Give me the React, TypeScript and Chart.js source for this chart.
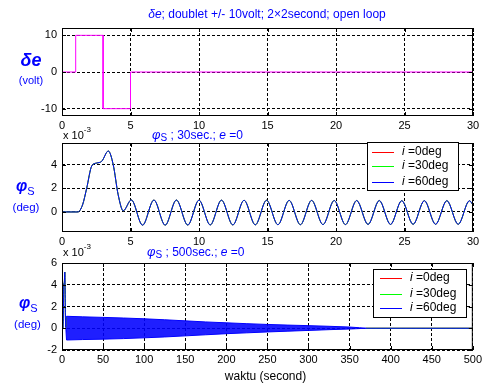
import React, { useEffect, useRef } from "react";
import { Chart, registerables } from "chart.js";
Chart.register(...registerables);

const FONT = "'Liberation Sans', Arial, Helvetica, sans-serif";

// ---- Plot 1: elevator doublet (volt) ----
const t1 = [0, 1, 1, 3, 3, 5, 5, 30];
const de1 = [0, 0, 10, 10, -10, -10, 0, 0];

// ---- Plot 2: phi_s over 30 s (x 10^-3 deg) ----
const t2 = [
  0, 1.15, 1.5, 1.8, 2.17, 2.53, 2.9, 3.38, 3.74, 4.1, 4.47,
  5.06, 5.88, 6.71, 7.53, 8.35, 9.18, 10.0, 10.82, 11.64, 12.47, 13.29,
  14.11, 14.93, 15.76, 16.58, 17.4, 18.22, 19.05, 19.87, 20.69, 21.51,
  22.34, 23.16, 23.98, 24.8, 25.63, 26.45, 27.27, 28.09, 28.92, 29.74, 30,
];
const phi30 = [
  0, 0, 0.6, 2.0, 3.9, 4.15, 4.3, 5.17, 4.0, 1.46, 0.1,
  1.02, -1.12, 1.01, -1.12, 1.01, -1.11, 1.0, -1.1, 1.0, -1.1, 0.99,
  -1.09, 0.99, -1.08, 0.98, -1.08, 0.98, -1.07, 0.97, -1.07, 0.97,
  -1.06, 0.97, -1.06, 0.96, -1.05, 0.96, -1.05, 0.96, -1.05, 0.95, 0.6,
];

// ---- Plot 3: phi_s over 500 s (x 10^-3 deg) ----
const t3 = [0, 1.15, 1.5, 1.8, 2.17, 2.53, 2.9, 3.38, 3.74, 4.1, 4.47, 5.06];
const phi500 = [0, 0, 0.6, 2.0, 3.9, 4.15, 4.3, 5.17, 4.0, 1.46, 0.1, 1.02];
const tTail = [370, 500];
const phiTail = [0, 0];
const tEnv = [4.6, 5.5, 25, 50, 75, 100, 125, 150, 175, 200, 225, 250, 275, 300, 325, 350, 362, 370];
const envUpper = [0.1, 1.1, 1.05, 1.0, 0.94, 0.87, 0.78, 0.68, 0.58, 0.5, 0.42, 0.35, 0.29, 0.24, 0.18, 0.11, 0.05, 0];
const envLower = [0.1, -1.08, -1.04, -1.0, -0.95, -0.88, -0.8, -0.7, -0.6, -0.5, -0.42, -0.34, -0.27, -0.2, -0.13, -0.07, -0.03, 0];

// ---- ticks / legend ----
const xTicks30 = [0, 5, 10, 15, 20, 25, 30];
const xTicks500 = [0, 50, 100, 150, 200, 250, 300, 350, 400, 450, 500];
const yTicks1 = [-10, 0, 10];
const yTicks2 = [0, 2, 4];
const yTicks3 = [-2, 0, 2, 4, 6];
const legendLabels = ["0deg", "30deg", "60deg"];
const seriesColors = ["rgb(255,0,0)", "rgb(0,255,0)", "rgb(0,0,255)"];

type Run = { text: string; font: string; color?: string; dy?: number };
type RichItem = { x: number; y: number; align: "left" | "center"; runs: Run[] };
type LegendBox = { x: number; y: number; w: number; h: number; rows: number[]; l0: number; l1: number; tx: number };

const BLUE = "#0000ff";
const f = (spec: string) => `${spec} ${FONT}`;

function drawRich(ctx: CanvasRenderingContext2D, item: RichItem) {
  ctx.save();
  ctx.textBaseline = "middle";
  ctx.textAlign = "left";
  let total = 0;
  for (const r of item.runs) {
    ctx.font = r.font;
    total += ctx.measureText(r.text).width;
  }
  let x = item.align === "center" ? item.x - total / 2 : item.x;
  for (const r of item.runs) {
    ctx.font = r.font;
    ctx.fillStyle = r.color || "#000";
    ctx.fillText(r.text, x, item.y + (r.dy || 0));
    x += ctx.measureText(r.text).width;
  }
  ctx.restore();
}

function drawLegend(ctx: CanvasRenderingContext2D, L: LegendBox) {
  ctx.save();
  ctx.fillStyle = "#ffffff";
  ctx.fillRect(L.x, L.y, L.w, L.h);
  ctx.strokeStyle = "#000000";
  ctx.lineWidth = 1;
  ctx.strokeRect(L.x + 0.5, L.y + 0.5, L.w - 1, L.h - 1);
  for (let i = 0; i < legendLabels.length; i++) {
    const y = Math.round(L.y + L.rows[i]);
    ctx.fillStyle = seriesColors[i];
    ctx.fillRect(L.x + L.l0, y, L.l1 - L.l0, 1);
    drawRich(ctx, {
      x: L.x + L.tx,
      y: L.y + L.rows[i],
      align: "left",
      runs: [
        { text: "i", font: f("italic 12px") },
        { text: " =" + legendLabels[i], font: f("12px") },
      ],
    });
  }
  ctx.restore();
}

const matlabPlugin = {
  id: "matlabDeco",
  afterDatasetsDraw(chart: any) {
    const ctx: CanvasRenderingContext2D = chart.ctx;
    const a = chart.chartArea;
    const xs = chart.scales.x;
    const ys = chart.scales.y;
    ctx.save();
    ctx.strokeStyle = "#000";
    ctx.lineWidth = 1;
    ctx.setLineDash([]);
    ctx.beginPath();
    for (const t of xs.ticks) {
      const px = Math.round(xs.getPixelForValue(t.value)) + 0.5;
      ctx.moveTo(px, a.bottom);
      ctx.lineTo(px, a.bottom - 4);
      ctx.moveTo(px, a.top);
      ctx.lineTo(px, a.top + 4);
    }
    for (const t of ys.ticks) {
      const py = Math.round(ys.getPixelForValue(t.value)) + 0.5;
      ctx.moveTo(a.left, py);
      ctx.lineTo(a.left + 4, py);
      ctx.moveTo(a.right, py);
      ctx.lineTo(a.right - 4, py);
    }
    ctx.stroke();
    ctx.strokeRect(a.left + 0.5, a.top + 0.5, a.right - a.left - 1, a.bottom - a.top - 1);
    ctx.restore();
  },
};

const pts = (xs: number[], ys: number[]) => xs.map((x, i) => ({ x, y: ys[i] }));

function makeChart(canvas: HTMLCanvasElement, p: {
  datasets: any[];
  xMin: number; xMax: number; xTicks: number[];
  yMin: number; yMax: number; yTicks: number[];
  top: number; bottom: number;
  texts: RichItem[];
}): Chart {
  const XH = 20;
  const YW = 30;
  const axisCommon = {
    grid: { color: "#000", lineWidth: 1, drawTicks: false },
    border: { display: false, dash: [3, 2] },
  };
  const overlay = {
    id: "overlay",
    afterDraw(chart: any) {
      const ctx: CanvasRenderingContext2D = chart.ctx;
      for (const it of p.texts) drawRich(ctx, it);
    },
  };
  return new Chart(canvas, {
    type: "line",
    data: { datasets: p.datasets },
    plugins: [matlabPlugin, overlay],
    options: {
      responsive: false,
      devicePixelRatio: 1,
      animation: false,
      events: [],
      layout: { padding: { left: 62 - YW, right: 12, top: p.top, bottom: 388 - p.bottom - XH } },
      elements: { point: { radius: 0 } },
      plugins: {
        legend: { display: false },
        title: { display: false },
        tooltip: { enabled: false },
      },
      scales: {
        x: {
          type: "linear",
          min: p.xMin,
          max: p.xMax,
          ...axisCommon,
          afterFit: (s: any) => { s.height = XH; },
          afterBuildTicks: (s: any) => { s.ticks = p.xTicks.map((v) => ({ value: v })); },
          ticks: { color: "#000", font: { family: FONT, size: 11 }, padding: 3, maxRotation: 0, autoSkip: false, callback: (v: any) => String(v) },
        },
        y: {
          type: "linear",
          min: p.yMin,
          max: p.yMax,
          ...axisCommon,
          afterFit: (s: any) => { s.width = YW; },
          afterBuildTicks: (s: any) => { s.ticks = p.yTicks.map((v) => ({ value: v })); },
          ticks: { color: "#000", font: { family: FONT, size: 11 }, padding: 5, autoSkip: false, callback: (v: any) => String(v) },
        },
      },
    } as any,
  } as any);
}

const lineDs = (label: string, data: any[], color: string, mono = true) => ({
  label,
  data,
  borderColor: color,
  backgroundColor: color,
  borderWidth: 1,
  fill: false,
  cubicInterpolationMode: mono ? "monotone" : "default",
  tension: 0,
  pointRadius: 0,
  spanGaps: false,
});

function exp10(x: number, y: number): RichItem {
  return {
    x, y, align: "left",
    runs: [
      { text: "x 10", font: f("11px") },
      { text: "-3", font: f("8px"), dy: -6 },
    ],
  };
}

function phiTitle(x: number, y: number, secs: string): RichItem {
  return {
    x, y, align: "left",
    runs: [
      { text: "\u03C6", font: f("italic 13px"), color: BLUE },
      { text: "S", font: f("10px"), color: BLUE, dy: 3 },
      { text: " ; " + secs + "; ", font: f("12px"), color: BLUE },
      { text: "e", font: f("italic 12px"), color: BLUE },
      { text: " =0", font: f("12px"), color: BLUE },
    ],
  };
}

const legend2: LegendBox = { x: 367, y: 142, w: 92, h: 49, rows: [10, 24, 40], l0: 5, l1: 27, tx: 35 };
const legend3: LegendBox = { x: 373, y: 269, w: 94, h: 49, rows: [9, 25, 39], l0: 7, l1: 29, tx: 37 };

export default function App() {
  const c1 = useRef<HTMLCanvasElement>(null);
  const c2 = useRef<HTMLCanvasElement>(null);
  const c3 = useRef<HTMLCanvasElement>(null);
  const cL = useRef<HTMLCanvasElement>(null);

  useEffect(() => {
    document.body.style.margin = "0";
    const charts: Chart[] = [];

    charts.push(
      makeChart(c1.current!, {
        datasets: [lineDs("de", pts(t1, de1), "#ff00ff", false)],
        xMin: 0, xMax: 30, xTicks: xTicks30,
        yMin: -12, yMax: 12, yTicks: yTicks1,
        top: 28, bottom: 116,
        texts: [
          {
            x: 267, y: 14.5, align: "center",
            runs: [
              { text: "\u03B4e", font: f("italic 12px"), color: BLUE },
              { text: "; doublet +/- 10volt; 2\u00D72second; open loop", font: f("12px"), color: BLUE },
            ],
          },
          { x: 31, y: 61, align: "center", runs: [{ text: "\u03B4e", font: f("italic bold 18px"), color: BLUE }] },
          { x: 31, y: 80.5, align: "center", runs: [{ text: "(volt)", font: f("11px"), color: BLUE }] },
        ],
      })
    );

    const d2 = pts(t2, phi30);
    charts.push(
      makeChart(c2.current!, {
        datasets: [
          lineDs("i =60deg", d2, seriesColors[2]),
          lineDs("i =30deg", d2, seriesColors[1]),
          lineDs("i =0deg", d2, seriesColors[0]),
        ],
        xMin: 0, xMax: 30, xTicks: xTicks30,
        yMin: -1.7, yMax: 5.85, yTicks: yTicks2,
        top: 143, bottom: 232,
        texts: [
          exp10(63, 135.5),
          phiTitle(152, 135.5, "30sec."),
          {
            x: 16, y: 187, align: "left",
            runs: [
              { text: "\u03C6", font: f("italic bold 16px"), color: BLUE },
              { text: "S", font: f("11px"), color: BLUE, dy: 5 },
            ],
          },
          { x: 26, y: 207.5, align: "center", runs: [{ text: "(deg)", font: f("11.5px"), color: BLUE }] },
        ],
      })
    );

    const d3a = pts(t3, phi500);
    const d3b = pts(tTail, phiTail);
    const mk3 = (idx: number) => [
      lineDs(legendLabels[idx] + "-a", d3a, seriesColors[idx]),
      lineDs(legendLabels[idx] + "-b", d3b, seriesColors[idx], false),
    ];
    charts.push(
      makeChart(c3.current!, {
        datasets: [
          ...mk3(2),
          ...mk3(1),
          ...mk3(0),
          {
            label: "upper",
            data: pts(tEnv, envUpper),
            borderColor: BLUE,
            borderWidth: 1,
            backgroundColor: "rgba(0,0,255,0.88)",
            fill: "+1",
            tension: 0,
            pointRadius: 0,
          },
          {
            label: "lower",
            data: pts(tEnv, envLower),
            borderColor: BLUE,
            borderWidth: 1,
            backgroundColor: "rgba(0,0,255,0.88)",
            fill: false,
            tension: 0,
            pointRadius: 0,
          },
        ],
        xMin: 0, xMax: 500, xTicks: xTicks500,
        yMin: -2, yMax: 6, yTicks: yTicks3,
        top: 263, bottom: 350,
        texts: [
          exp10(63, 253),
          phiTitle(147, 252.5, "500sec."),
          {
            x: 19, y: 304, align: "left",
            runs: [
              { text: "\u03C6", font: f("italic bold 16px"), color: BLUE },
              { text: "S", font: f("11px"), color: BLUE, dy: 5 },
            ],
          },
          { x: 27.5, y: 324.7, align: "center", runs: [{ text: "(deg)", font: f("11.5px"), color: BLUE }] },
          { x: 265.5, y: 377, align: "center", runs: [{ text: "waktu (second)", font: f("12px") }] },
        ],
      })
    );

    const lctx = cL.current!.getContext("2d")!;
    lctx.clearRect(0, 0, 485, 388);
    drawLegend(lctx, legend2);
    drawLegend(lctx, legend3);

    return () => charts.forEach((c) => c.destroy());
  }, []);

  const cs: React.CSSProperties = { position: "absolute", left: 0, top: 0 };
  return (
    <div style={{ position: "absolute", left: 0, top: 0, width: 485, height: 388, background: "#fff", overflow: "hidden" }}>
      <canvas ref={c1} width={485} height={388} style={cs} />
      <canvas ref={c2} width={485} height={388} style={cs} />
      <canvas ref={c3} width={485} height={388} style={cs} />
      <canvas ref={cL} width={485} height={388} style={cs} />
    </div>
  );
}
